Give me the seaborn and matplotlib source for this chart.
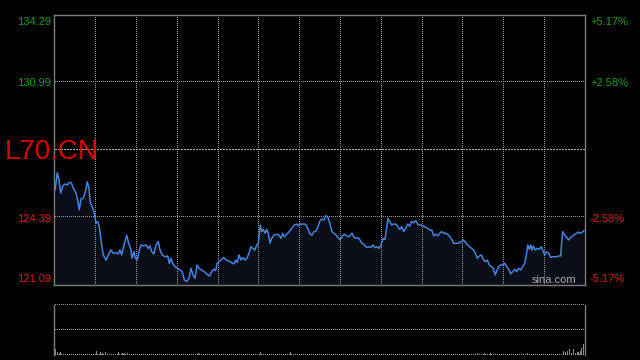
import matplotlib
matplotlib.use("Agg")
import matplotlib.pyplot as plt
import seaborn as sns
import pandas as pd
import numpy as np

# ---- data (time offset units across the session, price) ----
minutes = [
    0.7, 3.0, 4.7, 6.4, 8.4, 10.7, 13.0, 15.0, 17.0, 19.0,
    21.7, 23.7, 25.0, 26.7, 29.0, 31.0, 33.0, 34.7, 36.0, 38.0,
    40.0, 41.7, 43.4, 45.0, 46.7, 49.0, 51.7, 54.0, 56.4, 59.0,
    61.7, 64.0, 65.7, 67.4, 69.7, 72.4, 74.4, 76.4, 77.7, 79.7,
    81.0, 83.0, 85.0, 86.7, 89.0, 91.7, 94.0, 95.7, 97.4, 99.7,
    101.7, 104.0, 105.7, 108.0, 110.7, 113.4, 115.0, 116.7, 118.4, 120.7,
    123.4, 125.7, 128.0, 130.0, 132.4, 134.7, 136.7, 138.7, 140.7, 142.7,
    144.7, 147.4, 150.0, 152.4, 155.0, 157.4, 159.4, 161.4, 162.7, 164.7,
    167.4, 169.4, 172.0, 174.7, 177.4, 179.7, 181.4, 183.0, 184.7, 186.7,
    188.7, 190.7, 192.7, 194.7, 196.7, 198.7, 200.7, 202.4, 204.0, 206.0,
    207.4, 209.0, 210.7, 212.4, 214.0, 215.7, 217.4, 219.7, 222.4, 224.7,
    226.7, 228.4, 230.0, 232.4, 235.0, 237.4, 240.0, 242.4, 244.4, 246.4,
    249.0, 251.4, 253.4, 255.7, 257.7, 259.7, 261.7, 263.7, 265.7, 267.7,
    269.7, 271.7, 273.7, 275.7, 277.7, 279.7, 281.7, 283.7, 285.7, 287.7,
    289.7, 291.7, 293.7, 295.7, 297.7, 299.7, 301.7, 303.7, 305.7, 307.7,
    309.7, 311.7, 312.7, 314.7, 316.7, 318.7, 320.7, 322.7, 324.7, 326.7,
    328.7, 330.7, 332.0, 333.7, 335.4, 337.4, 339.4, 341.4, 343.4, 345.4,
    347.4, 349.4, 351.4, 353.4, 355.4, 357.4, 359.4, 361.4, 363.4, 365.4,
    367.4, 369.4, 371.4, 373.4, 375.4, 377.4, 379.4, 381.4, 383.4, 385.4,
    387.4, 389.4, 391.4, 393.4, 395.4, 397.4, 399.4, 401.4, 403.4, 405.4,
    407.4, 409.4, 411.4, 413.4, 415.4, 417.4, 419.4, 420.7, 423.0, 425.0,
    427.0, 429.0, 431.0, 433.0, 435.0, 437.0, 439.0, 441.0, 442.4, 444.4,
    446.4, 448.4, 450.4, 452.4, 454.4, 456.4, 458.4, 460.4, 462.4, 464.4,
    466.4, 468.4, 470.4, 472.4, 473.4, 475.0, 476.4, 477.7, 479.0, 481.0,
    483.0, 485.0, 487.0, 489.0, 490.4, 492.4, 494.4, 496.4, 498.4, 500.4,
    502.4, 504.4, 506.4, 507.4, 508.4, 510.4, 512.4, 514.4, 516.4, 518.4,
    520.4, 522.4, 524.4, 526.4, 528.4, 529.7,
]
price = [
    125.72, 126.57, 126.21, 125.58, 125.92, 126.02, 125.97, 126.10, 126.08, 125.82,
    125.58, 125.15, 124.75, 125.29, 125.33, 125.64, 126.13, 125.82, 125.10, 124.91,
    124.59, 124.10, 124.18, 123.93, 123.28, 122.55, 122.30, 122.55, 122.79, 122.63,
    122.66, 122.60, 122.79, 122.55, 123.04, 123.52, 123.12, 122.87, 122.39, 122.71,
    122.39, 122.30, 122.79, 123.04, 122.99, 123.04, 122.87, 122.99, 122.71, 122.60,
    123.04, 123.20, 122.79, 122.55, 122.46, 122.50, 122.14, 122.39, 122.14, 121.98,
    121.90, 121.81, 121.73, 121.33, 121.24, 121.41, 121.90, 121.57, 121.41, 122.06,
    121.90, 121.81, 121.73, 121.62, 121.52, 121.73, 121.85, 121.78, 122.14, 122.22,
    122.34, 122.43, 122.30, 122.25, 122.17, 122.11, 122.30, 122.19, 122.55, 122.30,
    122.43, 122.30, 122.39, 122.63, 122.95, 122.87, 122.79, 123.04, 123.12, 124.01,
    123.69, 123.80, 123.61, 123.80, 123.61, 123.12, 123.36, 123.52, 123.56, 123.52,
    123.36, 123.61, 123.44, 123.56, 123.69, 123.85, 124.01, 124.06, 123.98, 124.06,
    124.06, 124.05, 123.85, 123.57, 123.52, 123.69, 123.72, 123.93, 124.22, 124.31,
    124.26, 124.47, 124.39, 124.06, 123.69, 123.61, 123.52, 123.41, 123.28, 123.44,
    123.56, 123.51, 123.44, 123.48, 123.61, 123.41, 123.36, 123.39, 123.28, 123.12,
    123.07, 122.95, 122.92, 122.95, 122.92, 123.04, 122.90, 122.95, 122.87, 123.04,
    123.36, 123.31, 123.77, 124.34, 124.18, 124.01, 124.06, 124.06, 123.93, 123.80,
    123.93, 123.69, 123.85, 124.06, 123.96, 124.18, 124.13, 124.22, 124.06, 124.01,
    124.01, 123.96, 123.90, 123.85, 123.77, 123.77, 123.49, 123.56, 123.48, 123.61,
    123.69, 123.61, 123.61, 123.56, 123.44, 123.31, 123.12, 123.12, 123.12, 123.15,
    123.20, 123.28, 123.15, 123.04, 122.95, 122.87, 122.79, 122.67, 122.39, 122.50,
    122.55, 122.34, 122.22, 122.30, 122.06, 121.98, 121.90, 121.57, 121.78, 121.98,
    122.06, 122.06, 122.14, 121.98, 121.85, 121.62, 121.73, 121.85, 121.73, 121.90,
    121.81, 121.98, 122.14, 122.63, 123.04, 122.83, 123.04, 122.79, 122.99, 122.79,
    122.87, 122.83, 122.95, 122.71, 122.55, 122.71, 122.63, 122.43, 122.46, 122.46,
    122.46, 122.50, 122.50, 123.20, 123.69, 123.52, 123.41, 123.28, 123.41, 123.48,
    123.56, 123.61, 123.66, 123.61, 123.69, 123.74,
]
session_length = 530.4
n_divisions = 13

price_ticks = [134.29, 130.99, 124.39, 121.09]
price_tick_labels = ["134.29", "130.99", "124.39", "121.09"]
pct_tick_labels = ["+5.17%", "+2.58%", "-2.58%", "-5.17%"]
prev_close = 127.69
price_min, price_max = 121.09, 134.29
title = "L70.CN"
watermark = "sina.com"

vol_minutes = [0.7, 3.2, 4.7, 6.2, 42.4, 45.7, 47.7, 50.7, 63.7, 67.7, 69.7, 72.7,
               143.7, 205.7, 235.7, 422.7, 429.7, 435.7, 472.7, 508.7, 510.7, 512.7,
               514.7, 516.7, 518.7, 520.7, 522.7, 524.2, 525.7, 527.4, 529.0]
volume = [600, 300, 250, 300, 430, 300, 250, 300, 300, 200, 200, 200,
          200, 300, 300, 200, 200, 200, 200, 430, 300, 430,
          600, 200, 600, 200, 300, 300, 400, 700, 1100]
vol_max = 5000

# ---- style ----
sns.set_style("dark", {"axes.facecolor": "black", "figure.facecolor": "black"})
plt.rcParams["font.family"] = ["Liberation Sans", "DejaVu Sans"]

W, H = 640, 360
def rect(l, t, r, b):
    return [l / W, 1 - b / H, (r - l) / W, (b - t) / H]

GREEN = "#1c9c1c"
RED = "#dc1414"
GRID = "#9a9a9a"
SPINE = "#7c7c7c"


def dotted_h(a, y, color, step_px=2.0, width_px=530.4, span=(0, 530.4)):
    # row of single pixels along a horizontal line (pixel-style dotted grid)
    x0, x1 = span
    xs = np.arange(x0 + 0.5 * (x1 - x0) / width_px, x1, step_px * (x1 - x0) / width_px)
    a.plot(xs, np.full_like(xs, y), ",", color=color, zorder=2, clip_on=False)


def dotted_v(a, x, color, ylo, yhi, height_px, step_px=2.0):
    ys = np.arange(ylo + 0.5 * (yhi - ylo) / height_px, yhi, step_px * (yhi - ylo) / height_px)
    a.plot(np.full_like(ys, x), ys, ",", color=color, zorder=2)


fig = plt.figure(figsize=(6.4, 3.6), dpi=100, facecolor="black")

# ---- price panel ----
ax = fig.add_axes(rect(54.3, 14.8, 584.7, 284.8))
ax.set_facecolor("black")
n = min(len(minutes), len(price))
df = pd.DataFrame({"t": minutes[:n], "p": price[:n]})
ax.fill_between(df["t"], df["p"], price_min, color="#090e19", lw=0, zorder=1)
for k in range(1, n_divisions):
    dotted_v(ax, session_length * k / n_divisions, GRID, price_min, price_max, 270)
for v in price_ticks[1:3]:
    dotted_h(ax, v, GRID)
dotted_h(ax, prev_close, "#b4b4b4", step_px=1.5)
sns.lineplot(data=df, x="t", y="p", ax=ax, color="#4683dc", lw=1.1, zorder=3, sort=False)
ax.set_xlim(0, session_length)
ax.set_ylim(price_min, price_max)
ax.set_xticks([]); ax.set_yticks([])
ax.set_xlabel(""); ax.set_ylabel("")
for s in ax.spines.values():
    s.set_visible(True); s.set_color(SPINE); s.set_linewidth(1)

# axis labels
baselines_left = [25, 86.5, 221.5, 282]
for lab, yb, col in zip(price_tick_labels, baselines_left, [GREEN, GREEN, RED, RED]):
    fig.text(50.7 / W, 1 - yb / H, lab, color=col, fontsize=8, ha="right", va="baseline")
for lab, yb, col in zip(pct_tick_labels, baselines_left, [GREEN, GREEN, RED, RED]):
    fig.text(590 / W, 1 - yb / H, lab, color=col, fontsize=8, ha="left", va="baseline")

fig.text(5 / W, 1 - 159.3 / H, title, color="#dd0000", fontsize=20, ha="left", va="baseline", zorder=5)
fig.text(531.5 / W, 1 - 283 / H, watermark, color="#a8a8a8", fontsize=8, ha="left", va="baseline", zorder=5)

# ---- volume panel ----
axv = fig.add_axes(rect(54.3, 305, 584.7, 355))
axv.set_facecolor("black")
axv.bar(vol_minutes, volume, width=1.0, color="#8c8c8c", lw=0, zorder=2)
axv.set_xlim(0, session_length)
axv.set_ylim(0, vol_max)
for v in [vol_max, vol_max / 2, 0]:
    dotted_h(axv, v, GRID)
axv.set_xticks([]); axv.set_yticks([])
for k, s in axv.spines.items():
    if k in ("left", "right"):
        s.set_visible(True); s.set_color(SPINE); s.set_linewidth(1)
    else:
        s.set_visible(False)

fig.savefig("out.png", dpi=100, facecolor="black")
